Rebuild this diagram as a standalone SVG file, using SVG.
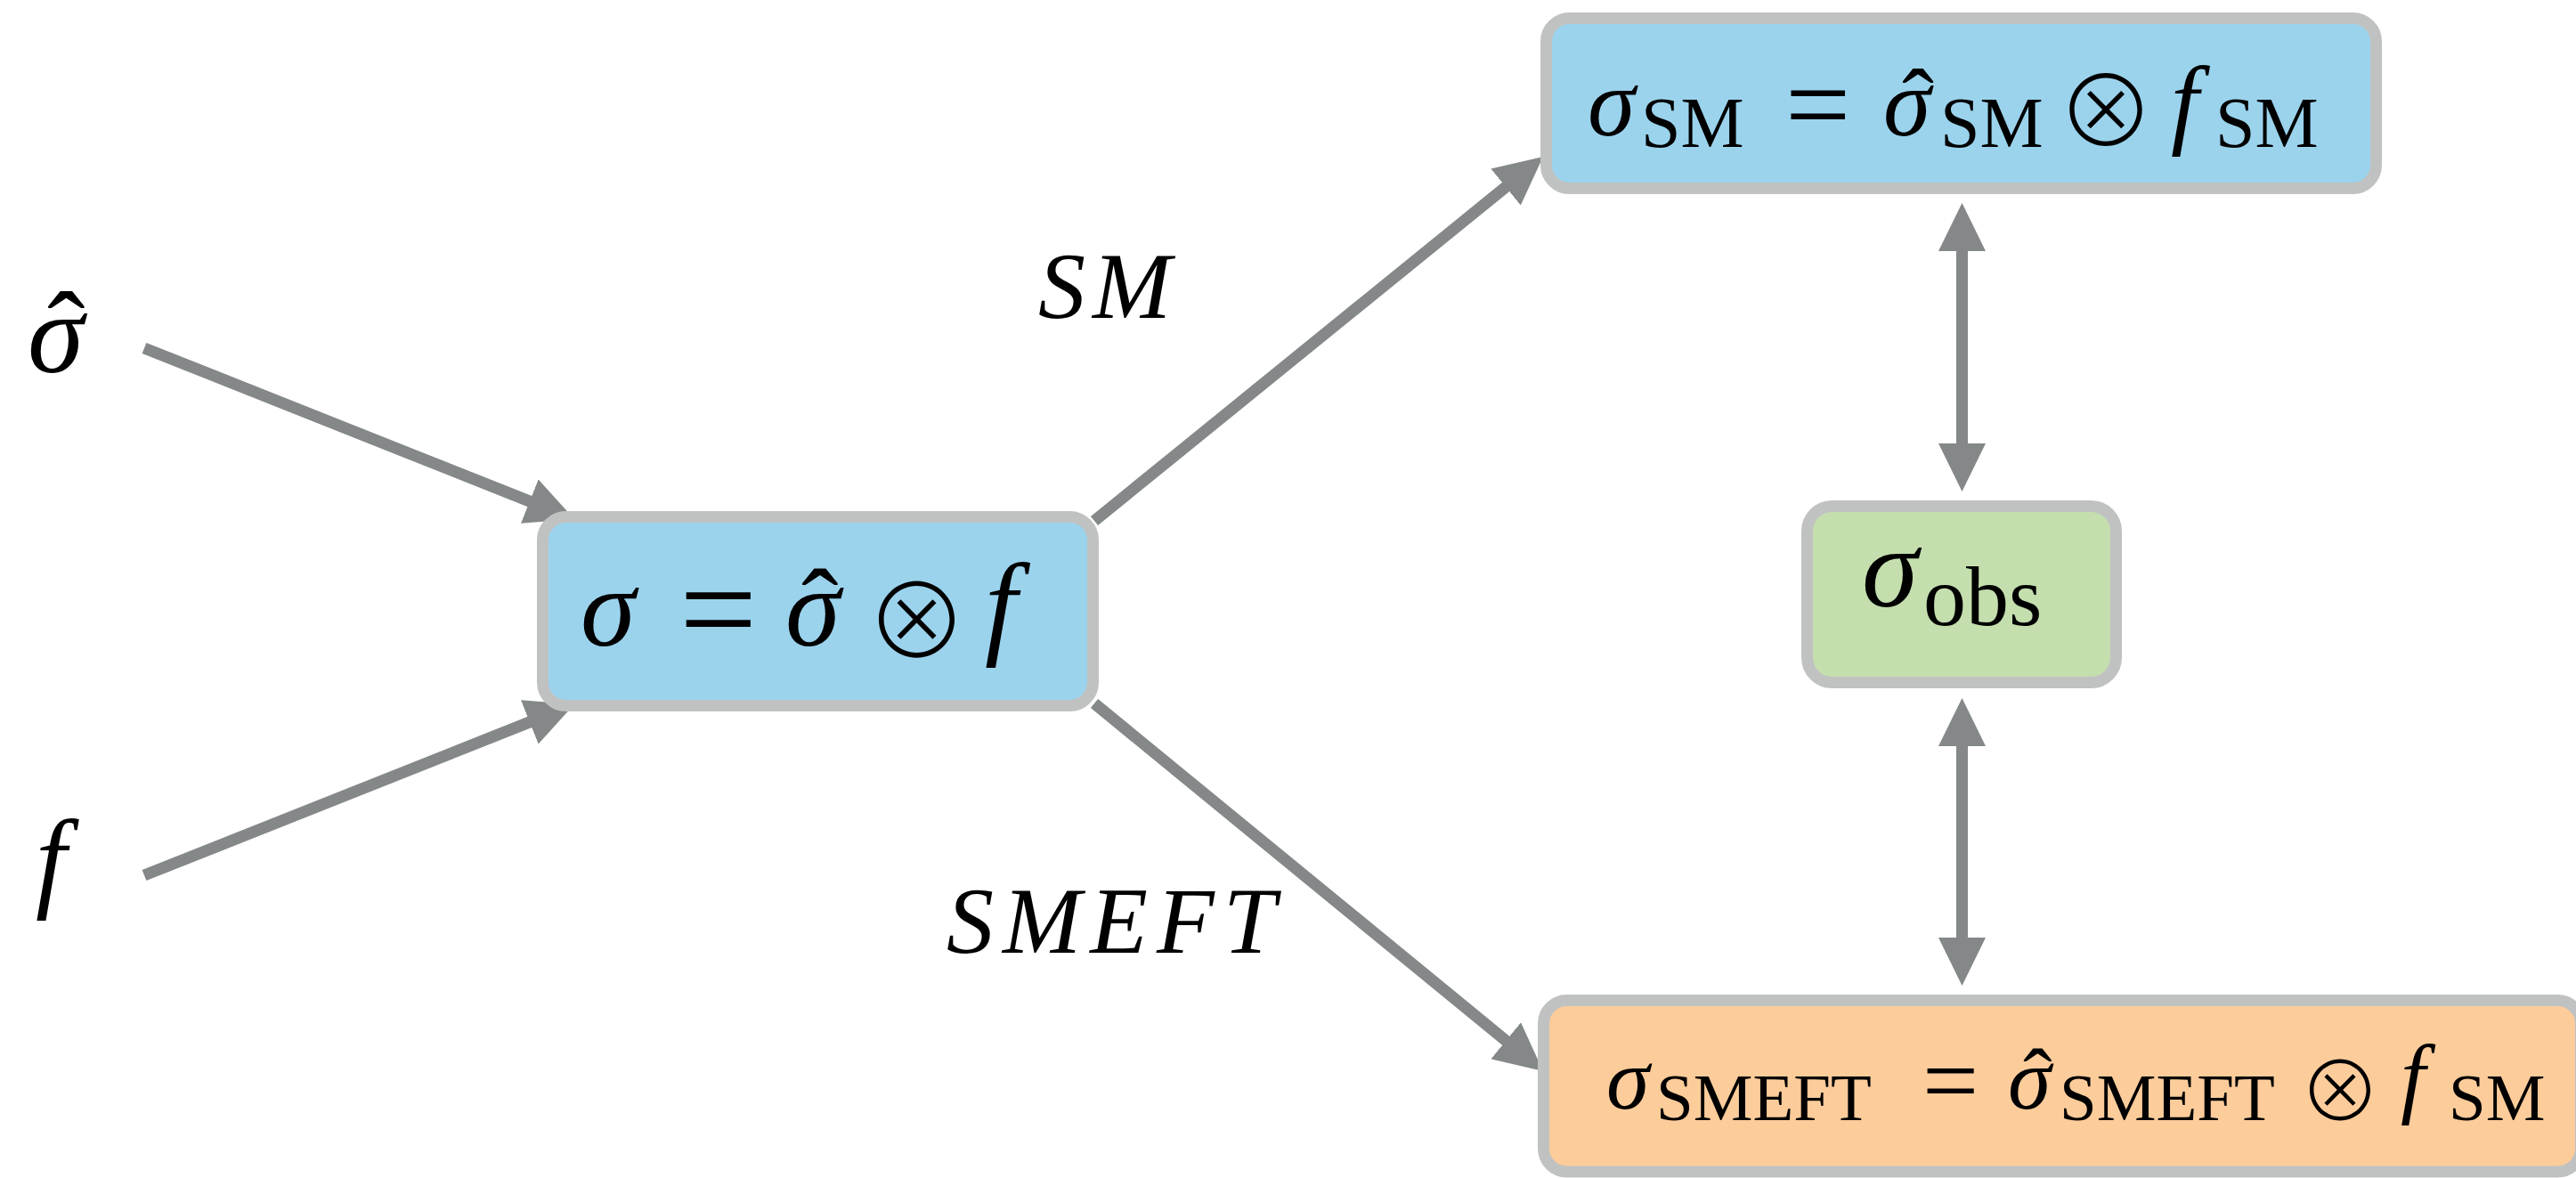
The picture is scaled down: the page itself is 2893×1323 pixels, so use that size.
<svg xmlns="http://www.w3.org/2000/svg" width="2893" height="1323" viewBox="0 0 2893 1323">
<style>
.box{stroke:#c0c2c1;stroke-width:13}
.blue{fill:#9bd3ed}.green{fill:#c4deae}.peach{fill:#fdcc9b}
text{font-family:"Liberation Serif",serif;fill:#000}
.it{font-style:italic}
.op{font-family:"Noto Sans CJK JP","DejaVu Sans",sans-serif;font-style:normal;font-weight:300}
.conn line{stroke:#858889;stroke-width:13;fill:none}
</style>
<defs>
<marker id="ah" markerUnits="userSpaceOnUse" markerWidth="54" markerHeight="53" viewBox="0 0 54 53" refX="24" refY="26.5" orient="auto-start-reverse">
<path d="M0,0 L54,26.5 L0,53 z" fill="#858889"/>
</marker>
</defs>
<rect width="2893" height="1323" fill="#fff"/>

<g id="connectors" class="conn">
<line x1="162" y1="391" x2="617.1" y2="571.9" marker-end="url(#ah)"/>
<line x1="162" y1="983" x2="617.1" y2="802.1" marker-end="url(#ah)"/>
<line x1="1229" y1="585" x2="1709.7" y2="194.9" marker-end="url(#ah)"/>
<line x1="1229" y1="790" x2="1709.8" y2="1184" marker-end="url(#ah)"/>
<line x1="2203.5" y1="258" x2="2203.5" y2="522" marker-start="url(#ah)" marker-end="url(#ah)"/>
<line x1="2203.5" y1="814" x2="2203.5" y2="1077" marker-start="url(#ah)" marker-end="url(#ah)"/>
</g>

<g id="label-sigmahat">
<text font-size="128"><tspan x="53" y="416">ˆ</tspan><tspan class="it" x="31" y="418">σ</tspan></text>
</g>
<g id="label-f">
<text class="it" x="40" y="1007" font-size="124">f</text>
</g>
<g id="label-SM">
<text class="it" x="1166" y="357" font-size="106" letter-spacing="8">SM</text>
</g>
<g id="label-SMEFT">
<text class="it" x="1063" y="1070" font-size="106" letter-spacing="10">SMEFT</text>
</g>

<g id="node-sigma">
<rect class="box blue" x="609.5" y="580.5" width="618" height="212" rx="26"/>
<text font-size="125"><tspan class="it" x="652" y="725">σ</tspan><tspan x="763" y="736" font-size="155">=</tspan><tspan x="900" y="725">ˆ</tspan><tspan class="it" x="882" y="725">σ</tspan><tspan class="op" x="972" y="739" font-size="115">⊗</tspan><tspan class="it" x="1106" y="722" font-size="130">f</tspan></text>
</g>

<g id="node-sigmaSM">
<rect class="box blue" x="1736.5" y="20.5" width="932" height="191" rx="26"/>
<text font-size="108"><tspan class="it" x="1783" y="152">σ</tspan><tspan x="1843" y="165" font-size="80">SM</tspan><tspan x="2005" y="161" font-size="130">=</tspan><tspan x="2136" y="152">ˆ</tspan><tspan class="it" x="2115" y="152">σ</tspan><tspan x="2179" y="165" font-size="80">SM</tspan><tspan class="op" x="2310" y="165" font-size="110">⊗</tspan><tspan class="it" x="2438" y="152" font-size="112">f</tspan><tspan x="2488" y="165" font-size="80">SM</tspan></text>
</g>

<g id="node-sigmaobs">
<rect class="box green" x="2029.5" y="568.5" width="347" height="198" rx="28"/>
<text font-size="128"><tspan class="it" x="2091" y="681">σ</tspan><tspan x="2160" y="702" font-size="96">obs</tspan></text>
</g>

<g id="node-sigmaSMEFT">
<rect class="box peach" x="1733.5" y="1123.5" width="1165" height="192.5" rx="26"/>
<text font-size="98"><tspan class="it" x="1804" y="1245">σ</tspan><tspan x="1860" y="1258" font-size="75">SMEFT</tspan><tspan x="2159" y="1251" font-size="112">=</tspan><tspan x="2272" y="1245">ˆ</tspan><tspan class="it" x="2255" y="1245">σ</tspan><tspan x="2313" y="1258" font-size="75">SMEFT</tspan><tspan class="op" x="2582" y="1259" font-size="92">⊗</tspan><tspan class="it" x="2696" y="1243" font-size="100">f</tspan><tspan x="2750" y="1258" font-size="75">SM</tspan></text>
</g>
</svg>
